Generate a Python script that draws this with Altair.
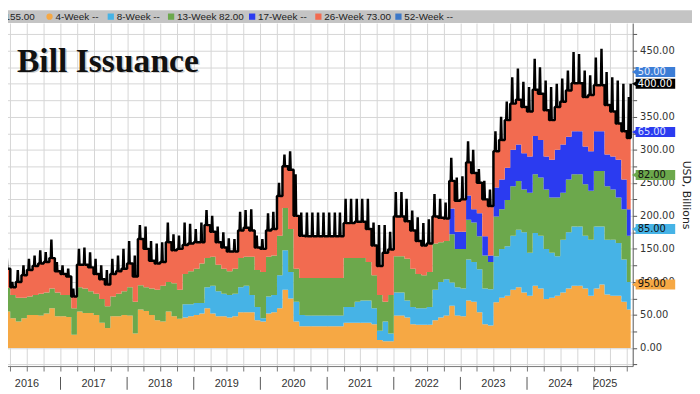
import altair as alt
import pandas as pd

# ---------------- data (USD billions, monthly observations) ----------------
dates = [d.strftime("%Y-%m-%d") for d in pd.date_range("2016-02-01", "2025-07-01", freq="MS")] + ["2025-07-22"]

four = [55,55,45,40,45,50,50,49,52,60,
        48,48,47,20,55,53,53,50,38,30,
        48,48,50,49,22,58,56,50,42,40,
        55,48,44,46,48,50,52,60,52,48,
        48,46,48,54,54,54,42,40,52,54,
        60,88,75,40,33,33,33,33,33,33,
        33,33,38,38,38,38,38,36,12,10,
        10,49,49,46,36,35,35,35,42,46,
        49,64,49,48,72,70,54,36,34,69,
        76,79,88,92,84,79,94,90,74,76,
        79,84,90,94,94,90,79,90,96,81,
        79,79,70,58,95]

eight = [0,0,0,0,0,0,0,0,0,0,
         0,0,0,0,0,0,0,0,0,0,
         0,0,0,0,0,0,0,0,0,0,
         0,0,0,20,18,18,16,32,42,38,
         34,34,34,38,40,26,20,5,26,26,
         50,60,40,30,17,16,16,16,16,16,
         16,16,24,24,32,34,34,24,14,30,
         12,35,35,26,26,25,25,27,46,54,
         55,35,43,42,62,60,65,54,55,70,
         74,75,82,87,91,65,80,80,76,68,
         60,80,85,90,90,80,85,94,88,83,
         85,80,64,42,85]

thirteen = [36,36,35,36,31,28,30,33,32,30,
            36,32,33,40,37,37,33,32,36,33,
            30,34,36,43,48,37,36,40,46,54,
            45,50,44,46,50,52,60,44,44,40,
            38,36,38,44,44,58,56,70,60,60,
            60,64,65,50,56,57,57,57,57,57,
            57,57,74,74,66,64,58,50,54,30,
            58,55,55,63,58,52,50,53,70,60,
            58,73,58,60,60,60,50,50,41,60,
            60,70,75,74,65,91,89,88,90,84,
            89,71,80,79,79,78,74,84,84,81,
            76,69,76,70,82]

seventeen = [0]*81 + [39,26,26,37,20,35,29,10,44,
                      45,49,55,55,55,55,58,57,50,57,
                      72,73,65,65,65,57,60,60,60,48,
                      50,57,45,40,65]

twentysix = [30,29,12,24,34,40,44,46,46,46,
             32,32,28,18,34,36,36,30,30,33,
             34,34,34,36,38,70,58,42,40,36,
             60,50,62,44,42,40,32,50,38,34,
             32,30,26,42,44,40,34,35,40,40,
             60,63,90,80,64,63,63,63,63,63,
             63,63,53,53,55,55,50,45,44,74,
             69,60,60,57,58,50,45,43,41,37,
             34,42,47,49,50,55,46,56,75,55,
             60,72,70,68,70,68,70,70,70,60,
             65,65,70,73,73,75,85,70,70,75,
             68,55,73,108,73]

# peak of the total-issuance line within each month
total_peak = [141,141,100,118,125,135,140,148,145,164,
              130,125,120,90,150,152,145,135,125,118,
              135,140,150,162,140,186,184,162,158,160,
              190,172,170,190,188,180,190,209,200,184,
              175,166,165,206,209,210,170,165,204,206,
              250,293,298,263,205,205,205,205,205,205,
              205,205,226,226,226,226,226,190,186,186,
              176,236,236,226,208,198,189,195,233,226,
              220,288,258,260,313,300,271,253,240,328,
              350,373,410,423,403,395,438,425,405,395,
              400,408,420,448,445,420,413,440,453,418,
              410,405,400,380,400]

series_names = ["4-Week", "8-Week", "13-Week", "17-Week", "26-Week"]
series_colors = ["#F6A844", "#46B3E6", "#6CA84C", "#2B3BF0", "#F26B50"]

year_labels = ["2016", "2017", "2018", "2019", "2020", "2021", "2022", "2023", "2024", "2025"]
year_label_dates = ["2016-07-01", "2017-07-01", "2018-07-01", "2019-07-01", "2020-07-01",
                    "2021-07-01", "2022-07-01", "2023-07-01", "2024-07-01", "2025-03-05"]
year_starts = ["2017-01-01", "2018-01-01", "2019-01-01", "2020-01-01", "2021-01-01",
               "2022-01-01", "2023-01-01", "2024-01-01", "2025-01-01"]

tag_values = [418, 400, 327, 262, 180, 96]
tag_texts = ["50.00", "400.00", "65.00", "82.00", "85.00", "95.00"]
tag_fills = ["#3C7DD6", "#000000", "#2B3BF0", "#6CA84C", "#46B3E6", "#F6A844"]
tag_text_colors = ["#E6EEFF", "#FFFFFF", "#DDE2FF", "#111111", "#111111", "#111111"]

legend_labels = ["4-Week --", "8-Week --", "13-Week 82.00", "17-Week --", "26-Week 73.00", "52-Week --"]
legend_colors = ["#F6A844", "#46B3E6", "#6CA84C", "#2B3BF0", "#F26B50", "#3C78C8"]
legend_icon_x = [50, 112, 173, 255, 322, 403]
legend_shapes = ["circle", "square", "square", "square", "square", "square"]

# ---------------- tables ----------------
area_rows = []
for k, (name, vals) in enumerate(zip(series_names, [four, eight, thirteen, seventeen, twentysix])):
    for d, v in zip(dates, vals):
        area_rows.append({"date": d, "series": name, "order": k, "value": v})
area_df = pd.DataFrame(area_rows)

total_base = [a + b + c + d + e for a, b, c, d, e in zip(four, eight, thirteen, seventeen, twentysix)]
line_rows = []
def add(d, v):
    line_rows.append({"date": d, "total": v, "idx": len(line_rows)})
fmt = lambda t: t.strftime("%Y-%m-%d %H:%M")
for i in range(len(dates) - 1):
    d0 = pd.Timestamp(dates[i])
    if i > 0:
        add(dates[i], total_base[i - 1])
    add(dates[i], total_base[i])
    add(fmt(d0 + pd.Timedelta(days=8)), total_base[i])
    add(fmt(d0 + pd.Timedelta(days=11)), total_peak[i])
    add(fmt(d0 + pd.Timedelta(days=14)), total_base[i])
add(dates[-1], total_base[-2])
add(dates[-1], total_peak[-1])
line_df = pd.DataFrame(line_rows)

sep_df = pd.DataFrame({"date": year_starts})
ylab_df = pd.DataFrame({"date": year_label_dates, "label": year_labels})
tag_df = pd.DataFrame({"tag_value": tag_values, "tag_text": tag_texts,
                       "tag_fill": tag_fills, "tag_text_color": tag_text_colors})
one = pd.DataFrame({"k": [0]})

# ---------------- scales / axes ----------------
quarters = []
for y in range(2016, 2026):
    for m in (1, 4, 7, 10):
        if (y, m) > (2016, 2) and (y, m) <= (2025, 7):
            quarters.append(alt.DateTime(year=y, month=m, date=1))

x_scale = alt.Scale(domain=[alt.DateTime(year=2016, month=2, date=5),
                            alt.DateTime(year=2025, month=8, date=2)], nice=False)
x_axis = alt.Axis(orient="bottom", values=quarters, grid=True, gridColor="#d6d6d6", gridWidth=1,
                  labels=False, ticks=True, tickSize=5, tickColor="#777777",
                  domain=True, domainColor="#777777", title=None)

y_scale = alt.Scale(domain=[-27.5, 492], nice=False, zero=False)
y_axis = alt.Axis(orient="right", values=list(range(-25, 476, 25)), grid=True,
                  gridColor="#d6d6d6", gridWidth=1, tickSize=4, tickColor="#555555",
                  domainColor="#555555", labelOverlap=False,
                  labelExpr="(datum.value % 50 == 0 && datum.value >= 0) ? format(datum.value, '.2f') : ''",
                  labelFont="DejaVu Sans", labelFontSize=10, labelColor="#333333", labelPadding=3,
                  title="USD, Billions", titleAngle=90, titleFont="DejaVu Sans", titleFontSize=11,
                  titleFontWeight="normal", titleColor="#222222", titlePadding=6)

X = lambda f: alt.X(f, scale=x_scale, axis=x_axis)
Y = lambda f: alt.Y(f, scale=y_scale, axis=y_axis)

layers = []

areas = alt.Chart(area_df).mark_area(interpolate="step-after", clip=True).encode(
    x=X("date:T"),
    y=alt.Y("value:Q", stack="zero", scale=y_scale, axis=y_axis),
    color=alt.Color("series:N", scale=alt.Scale(domain=series_names, range=series_colors), legend=None),
    order=alt.Order("order:Q", sort="ascending"),
)
layers.append(areas)

line = alt.Chart(line_df).mark_line(interpolate="linear", color="black", strokeWidth=2.5,
                                    strokeJoin="bevel", clip=True).encode(
    x=X("date:T"), y=Y("total:Q"), order=alt.Order("idx:Q"))
layers.append(line)

seps = alt.Chart(sep_df).mark_rule(color="#555555", strokeWidth=1).encode(
    x=X("date:T"), y=alt.value(358), y2=alt.value(371))
layers.append(seps)

ylabs = alt.Chart(ylab_df).mark_text(font="Liberation Sans Narrow, Liberation Sans, sans-serif",
                                     fontSize=11, color="#333333", baseline="middle").encode(
    x=X("date:T"), y=alt.value(365), text="label:N")
layers.append(ylabs)

# value tags on the right axis
tag_rect = alt.Chart(tag_df).transform_calculate(
    top="datum.tag_value + 7.5", bot="datum.tag_value - 7.5").mark_rect().encode(
    x=alt.value(643), x2=alt.value(683), y=Y("top:Q"), y2="bot:Q",
    fill=alt.Fill("tag_fill:N", scale=None))
tag_tri = alt.Chart(tag_df).mark_point(shape="triangle-left", filled=True, size=40, opacity=1).encode(
    x=alt.value(642), y=Y("tag_value:Q"), fill=alt.Fill("tag_fill:N", scale=None))
tag_txt = alt.Chart(tag_df).mark_text(align="left", baseline="middle", font="DejaVu Sans",
                                      fontSize=10).encode(
    x=alt.value(645), y=Y("tag_value:Q"), text="tag_text:N",
    fill=alt.Fill("tag_text_color:N", scale=None))
layers += [tag_rect, tag_tri, tag_txt]

# title with soft shadow
layers.append(alt.Chart(one).mark_text(align="left", baseline="alphabetic", font="Liberation Serif",
                                       fontSize=34, fontWeight="bold", color="#888888", opacity=0.4).encode(
    x=alt.value(18.5), y=alt.value(50.5), text=alt.value("Bill Issuance")))
layers.append(alt.Chart(one).mark_text(align="left", baseline="alphabetic", font="Liberation Serif",
                                       fontSize=34, fontWeight="bold", color="#111111").encode(
    x=alt.value(17), y=alt.value(49), text=alt.value("Bill Issuance")))

# legend bar along the top
layers.append(alt.Chart(one).mark_rect(color="#c4c4c4").encode(
    x=alt.value(0), x2=alt.value(700), y=alt.value(-13), y2=alt.value(0)))
layers.append(alt.Chart(one).mark_text(align="right", baseline="middle", font="Liberation Sans",
                                       fontSize=10, color="#222222").encode(
    x=alt.value(35), y=alt.value(-6.5), text=alt.value("Total Bill Issued 155.00")))
for lab, col, ix, shp in zip(legend_labels, legend_colors, legend_icon_x, legend_shapes):
    layers.append(alt.Chart(one).mark_point(shape=shp, filled=True, size=40, opacity=1, color=col).encode(
        x=alt.value(ix), y=alt.value(-6.5)))
    layers.append(alt.Chart(one).mark_text(align="left", baseline="middle", font="Liberation Sans",
                                           fontSize=10, color="#222222").encode(
        x=alt.value(ix + 6), y=alt.value(-6.5), text=alt.value(lab)))

chart = alt.layer(*layers).properties(
    width=640, height=347,
    autosize=alt.AutoSizeParams(type="none"),
    padding={"left": -8, "top": 13, "right": 60, "bottom": 26},
    background="white",
).resolve_scale(color="independent", fill="independent").configure_view(stroke=None)

chart.save("out.html", embed_options={"renderer": "svg", "actions": False})
